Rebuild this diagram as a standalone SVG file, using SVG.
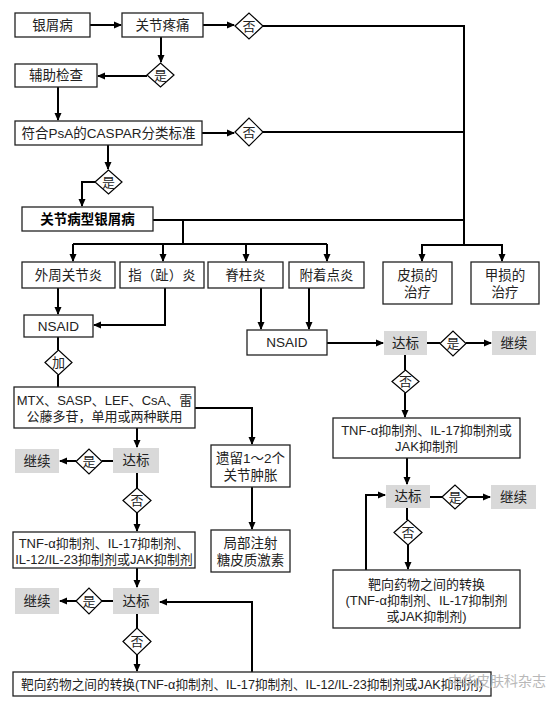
<svg xmlns="http://www.w3.org/2000/svg" width="552" height="706" viewBox="0 0 552 706">
<defs>
<marker id="ah" markerWidth="8" markerHeight="8" refX="7" refY="4" orient="auto" markerUnits="userSpaceOnUse">
<path d="M0,0.5 L8,4 L0,7.5 Z" fill="#000"/>
</marker>
<style>
.box{fill:#fff;stroke:#222;stroke-width:1.3}
.gbox{fill:#d9d9d9;stroke:none}
.dia{fill:#fff;stroke:#000;stroke-width:1.2}
.c{fill:none;stroke:#000;stroke-width:2}
.a{fill:none;stroke:#000;stroke-width:2;marker-end:url(#ah)}
text{font-family:"Liberation Sans","Noto Sans CJK SC",sans-serif;font-size:13.5px;fill:#222;text-anchor:middle;dominant-baseline:central}
.b{font-weight:bold;fill:#000}
.s{font-size:13px}
.wm{fill:#b8b8b8;font-size:14px;text-anchor:start}
</style>
</defs>
<rect width="552" height="706" fill="#fff"/>

<g id="connectors">
<path class="a" d="M90,25 H121"/>
<path class="a" d="M203,25 H234"/>
<path class="c" d="M263,26 H464 V245"/>
<path class="a" d="M161,37 V62"/>
<path class="a" d="M147,76 H98"/>
<path class="a" d="M58,87 V120"/>
<path class="a" d="M202,133 H234"/>
<path class="c" d="M263,132 H464"/>
<path class="a" d="M108,145 V169"/>
<path class="a" d="M95,182 H82 V206"/>
<path class="c" d="M153,220 H464"/>
<path class="c" d="M422,261 V245 H502 V261"/>
<path class="a" d="M422,245 V261"/>
<path class="a" d="M502,245 V261"/>
<path class="c" d="M183,220 V244"/>
<path class="c" d="M73,244 H327"/>
<path class="a" d="M73,244 V261"/>
<path class="a" d="M163,244 V261"/>
<path class="a" d="M246,244 V261"/>
<path class="a" d="M327,244 V261"/>
<path class="a" d="M58,288 V314"/>
<path class="a" d="M165,288 V325 H94"/>
<path class="a" d="M261,287 V329"/>
<path class="a" d="M309,287 V329"/>
<path class="a" d="M327,343 H383"/>
<path class="c" d="M427,343 H440"/>
<path class="a" d="M466,343 H491"/>
<path class="c" d="M405,355 V370"/>
<path class="a" d="M405,393 V417"/>
<path class="a" d="M407,458 V484"/>
<path class="c" d="M430,497 H442"/>
<path class="a" d="M468,497 H490"/>
<path class="c" d="M407,508 V520"/>
<path class="a" d="M408,545 V569"/>
<path class="a" d="M366,570 V495 H385"/>
<path class="c" d="M58,337 V350"/>
<path class="c" d="M58,375 V387"/>
<path class="a" d="M195,408 H252 V444"/>
<path class="a" d="M252,487 V529"/>
<path class="a" d="M137,428 V447"/>
<path class="c" d="M113,461 H102"/>
<path class="a" d="M76,461 H60"/>
<path class="c" d="M137,473 V488"/>
<path class="a" d="M137,513 V531"/>
<path class="a" d="M137,568 V587"/>
<path class="c" d="M113,601 H102"/>
<path class="a" d="M76,601 H60"/>
<path class="c" d="M137,614 V628"/>
<path class="a" d="M137,655 V671"/>
<path class="a" d="M252,672 V602 H160"/>
</g>

<g id="n-yinxiebing"><rect class="box" x="15" y="13" width="75" height="24"/><text x="52.5" y="25">银屑病</text></g>
<g id="n-guanjieteng"><rect class="box" x="122" y="13" width="81" height="24"/><text x="162.5" y="25">关节疼痛</text></g>
<g id="d-fou1"><polygon class="dia" points="235,26 249,13 263,26 249,39"/><text x="249" y="26" class="s">否</text></g>
<g id="d-shi1"><polygon class="dia" points="147,75 160.5,63 174,75 160.5,87"/><text x="160.5" y="75" class="s">是</text></g>
<g id="n-fuzhu"><rect class="box" x="15" y="64" width="82" height="23"/><text x="56" y="75.5">辅助检查</text></g>
<g id="n-caspar"><rect class="box" x="15" y="121" width="187" height="24"/><text x="108.5" y="133">符合PsA的CASPAR分类标准</text></g>
<g id="d-fou2"><polygon class="dia" points="235,132 249,118 263,132 249,146"/><text x="249" y="132" class="s">否</text></g>
<g id="d-shi2"><polygon class="dia" points="95,182 108.5,170 122,182 108.5,194"/><text x="108.5" y="182" class="s">是</text></g>
<g id="n-psa"><rect class="box" x="22" y="207" width="131" height="24"/><text x="87.5" y="219" class="b">关节病型银屑病</text></g>

<g id="n-waizhou"><rect class="box" x="22" y="262" width="93" height="26"/><text x="68.5" y="275">外周关节炎</text></g>
<g id="n-zhi"><rect class="box" x="120" y="262" width="84" height="26"/><text x="162" y="275">指（趾）炎</text></g>
<g id="n-jizhu"><rect class="box" x="208" y="262" width="75" height="26"/><text x="245.5" y="275">脊柱炎</text></g>
<g id="n-fuzhuo"><rect class="box" x="289" y="262" width="75" height="26"/><text x="326.5" y="275">附着点炎</text></g>
<g id="n-pisun"><rect class="box" x="383" y="262" width="69" height="42"/><text x="417.5" y="275">皮损的</text><text x="417.5" y="292">治疗</text></g>
<g id="n-jiasun"><rect class="box" x="471" y="262" width="68" height="42"/><text x="505" y="275">甲损的</text><text x="505" y="292">治疗</text></g>

<g id="n-nsaid1"><rect class="box" x="24" y="315" width="69" height="22"/><text x="58.5" y="326">NSAID</text></g>
<g id="d-jia"><polygon class="dia" points="45,362.5 58.5,350 72,362.5 58.5,375"/><text x="58.5" y="362.5" class="s">加</text></g>
<g id="n-mtx"><rect class="box" x="14" y="387" width="181" height="41"/><text x="104.5" y="400" class="s">MTX、SASP、LEF、CsA、雷</text><text x="104.5" y="416" class="s">公藤多苷，单用或两种联用</text></g>
<g id="n-yiliu"><rect class="box" x="211" y="445" width="79" height="42"/><text x="250.5" y="458">遗留1～2个</text><text x="250.5" y="475">关节肿胀</text></g>
<g id="n-jubu"><rect class="box" x="211" y="530" width="79" height="42"/><text x="250.5" y="543">局部注射</text><text x="250.5" y="560">糖皮质激素</text></g>

<g id="n-dabiao-l1"><rect class="gbox" x="113" y="448" width="46" height="25"/><text x="136" y="460.5">达标</text></g>
<g id="d-shi-l1"><polygon class="dia" points="76,461.5 89,449 102,461.5 89,474"/><text x="89" y="461.5" class="s">是</text></g>
<g id="n-jixu-l1"><rect class="gbox" x="15" y="449" width="44" height="24"/><text x="37" y="461">继续</text></g>
<g id="d-fou-l1"><polygon class="dia" points="123,500.5 137,488 151,500.5 137,513"/><text x="137" y="500.5" class="s">否</text></g>
<g id="n-tnf-l"><rect class="box" x="13" y="532" width="182" height="36"/><text x="104" y="543" class="s">TNF-α抑制剂、IL-17抑制剂、</text><text x="104" y="559" class="s">IL-12/IL-23抑制剂或JAK抑制剂</text></g>
<g id="n-dabiao-l2"><rect class="gbox" x="113" y="588" width="46" height="26"/><text x="136" y="601">达标</text></g>
<g id="d-shi-l2"><polygon class="dia" points="76,601 89,588 102,601 89,614"/><text x="89" y="601" class="s">是</text></g>
<g id="n-jixu-l2"><rect class="gbox" x="15" y="588" width="44" height="26"/><text x="37" y="601">继续</text></g>
<g id="d-fou-l2"><polygon class="dia" points="123,641.5 137,628 151,641.5 137,655"/><text x="137" y="641.5" class="s">否</text></g>
<g id="n-baxiang-l"><rect class="box" x="13" y="672" width="478" height="24"/><text x="252" y="684" class="s" textLength="462" lengthAdjust="spacingAndGlyphs">靶向药物之间的转换(TNF-α抑制剂、IL-17抑制剂、IL-12/IL-23抑制剂或JAK抑制剂)</text></g>

<g id="n-nsaid2"><rect class="box" x="247" y="330" width="80" height="25"/><text x="287" y="342.5">NSAID</text></g>
<g id="n-dabiao-r1"><rect class="gbox" x="384" y="331" width="43" height="24"/><text x="405.5" y="343">达标</text></g>
<g id="d-shi-r1"><polygon class="dia" points="440,343.5 453,331 466,343.5 453,356"/><text x="453" y="343.5" class="s">是</text></g>
<g id="n-jixu-r1"><rect class="gbox" x="492" y="331" width="44" height="24"/><text x="514" y="343">继续</text></g>
<g id="d-fou-r1"><polygon class="dia" points="392,381.5 405.5,370 419,381.5 405.5,393"/><text x="405.5" y="381.5" class="s">否</text></g>
<g id="n-tnf-r"><rect class="box" x="333" y="418" width="187" height="40"/><text x="426.5" y="430" class="s">TNF-α抑制剂、IL-17抑制剂或</text><text x="426.5" y="446" class="s">JAK抑制剂</text></g>
<g id="n-dabiao-r2"><rect class="gbox" x="386" y="485" width="44" height="23"/><text x="408" y="496.5">达标</text></g>
<g id="d-shi-r2"><polygon class="dia" points="442,497 455,485 468,497 455,509"/><text x="455" y="497" class="s">是</text></g>
<g id="n-jixu-r2"><rect class="gbox" x="491" y="485" width="45" height="24"/><text x="513.5" y="497">继续</text></g>
<g id="d-fou-r2"><polygon class="dia" points="394,532.5 408,520 422,532.5 408,545"/><text x="408" y="532.5" class="s">否</text></g>
<g id="n-baxiang-r"><rect class="box" x="333" y="570" width="187" height="58"/><text x="426.5" y="584" class="s">靶向药物之间的转换</text><text x="426.5" y="600" class="s">(TNF-α抑制剂、IL-17抑制剂</text><text x="426.5" y="616" class="s">或JAK抑制剂)</text></g>

<text class="wm" x="448" y="681">中华皮肤科杂志</text>
</svg>
